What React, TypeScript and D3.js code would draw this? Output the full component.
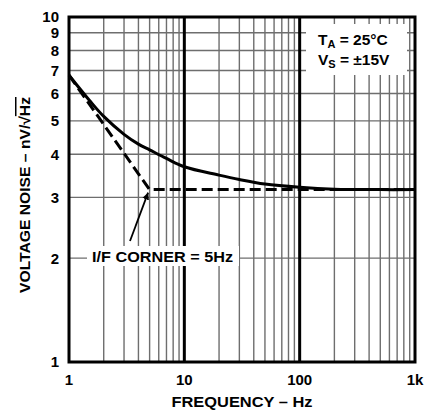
import React from 'react';
import { scaleLog, line, curveCatmullRom } from 'd3';

// data
const solidFreq = [1, 1.5, 2, 3, 4, 5, 7, 10, 20, 30, 50, 100, 200, 500, 1000];
const solidNoise = [6.78, 5.74, 5.15, 4.57, 4.28, 4.12, 3.89, 3.68, 3.48, 3.38, 3.28, 3.21, 3.17, 3.16, 3.16];
const dashFreq = [1, 5, 1000];
const dashNoise = [6.78, 3.16, 3.16];
const xTicks = [1, 10, 100, 1000];
const xTickLabels = ['1', '10', '100', '1k'];
const yTicks = [1, 2, 3, 4, 5, 6, 7, 8, 9, 10];
const cornerFreq = 5;
const cornerNoise = 3.16;

const W = 426;
const H = 410;
const L = 69, R = 415, T = 17, B = 362;

export default function App() {
  const x = scaleLog().domain([1, 1000]).range([L, R]);
  const y = scaleLog().domain([1, 10]).range([B, T]);

  const minorX: number[] = [];
  [1, 10, 100].forEach(d => { for (let k = 2; k <= 9; k++) minorX.push(d * k); });

  const solidPath = line<[number, number]>()
    .x(d => x(d[0]))
    .y(d => y(d[1]))
    .curve(curveCatmullRom.alpha(0.5))(solidFreq.map((f, i) => [f, solidNoise[i]]));
  const dashPath = line<[number, number]>()
    .x(d => x(d[0]))
    .y(d => y(d[1]))(dashFreq.map((f, i) => [f, dashNoise[i]]));

  const font = '"Liberation Sans", Arial, sans-serif';
  const cx = x(cornerFreq), cy = y(cornerNoise);

  return (
    <svg width={W} height={H} style={{ position: 'absolute', left: 0, top: 0, background: '#fff' }}
      fontFamily={font} fontWeight="bold">
      <defs>
        <marker id="ah" viewBox="0 0 10 10" refX="10" refY="5" markerWidth="7" markerHeight="9" orient="auto" markerUnits="userSpaceOnUse">
          <path d="M0,0 L10,5 L0,10 z" fill="#000" />
        </marker>
      </defs>
      {/* minor grid */}
      {minorX.map(f => (
        <line key={'vx' + f} x1={x(f)} x2={x(f)} y1={T} y2={B} stroke="#6e6e6e" strokeWidth={1.4} />
      ))}
      {yTicks.slice(1, -1).map(v => (
        <line key={'hy' + v} x1={L} x2={R} y1={y(v)} y2={y(v)} stroke="#6e6e6e" strokeWidth={1.4} />
      ))}
      {/* decade lines */}
      {[10, 100].map(f => (
        <line key={'mx' + f} x1={x(f)} x2={x(f)} y1={T} y2={B} stroke="#000" strokeWidth={3} />
      ))}

      {/* curves */}
      <path d={solidPath || ''} fill="none" stroke="#000" strokeWidth={3} />
      <path d={dashPath || ''} fill="none" stroke="#000" strokeWidth={3} strokeDasharray="11,5" />

      {/* conditions box */}
      <rect x={306} y={24} width={101} height={51} fill="#fff" />
      <text x={318} y={45} fontSize={15.5}>
        T<tspan fontSize={11} dy={3}>A</tspan><tspan dy={-3}> = 25°C</tspan>
      </text>
      <text x={318} y={65} fontSize={15.5}>
        V<tspan fontSize={11} dy={3}>S</tspan><tspan dy={-3}> = ±15V</tspan>
      </text>

      {/* corner annotation */}
      <rect x={87} y={246} width={152} height={20} fill="#fff" />
      <text x={92} y={262} fontSize={15} textLength={141} lengthAdjust="spacingAndGlyphs">I/F CORNER = 5Hz</text>
      <line x1={130} y1={241} x2={cx - 1.5} y2={cy + 3} stroke="#000" strokeWidth={1.8} markerEnd="url(#ah)" />

      {/* frame */}
      <rect x={L} y={T} width={R - L} height={B - T} fill="none" stroke="#000" strokeWidth={3} />

      {/* tick labels */}
      {yTicks.map(v => (
        <text key={'yt' + v} x={59} y={y(v)} dy="0.36em" textAnchor="end" fontSize={15}>{v}</text>
      ))}
      {xTicks.map((f, i) => (
        <text key={'xt' + f} x={x(f)} y={385} textAnchor="middle" fontSize={15}>{xTickLabels[i]}</text>
      ))}

      {/* axis titles */}
      <text x={(L + R) / 2} y={407} textAnchor="middle" fontSize={15} textLength={141} lengthAdjust="spacingAndGlyphs">FREQUENCY – Hz</text>
      <text transform={`translate(30,195) rotate(-90)`} textAnchor="middle" fontSize={15} textLength={196} lengthAdjust="spacingAndGlyphs">
        VOLTAGE NOISE – nV/√<tspan style={{ textDecoration: 'overline' }}>Hz</tspan>
      </text>
    </svg>
  );
}
